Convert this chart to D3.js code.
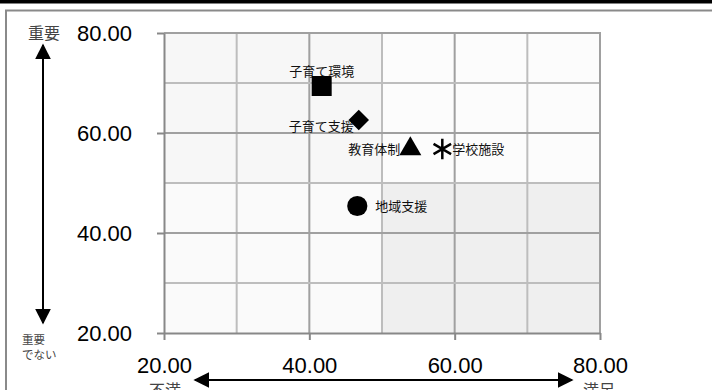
<!DOCTYPE html>
<html>
<head>
<meta charset="utf-8">
<script src="https://cdn.jsdelivr.net/npm/d3@7"></script>
<style>
  html, body { margin: 0; padding: 0; background: #fff; }
  svg { display: block; }
</style>
</head>
<body>
<svg id="chart" width="712" height="390"></svg>
<script>
// 満足度 (x) と 重要度 (y) の散布図
const items = ["子育て環境", "子育て支援", "教育体制", "学校施設", "地域支援"];
const satisfaction = [41.7, 46.8, 53.9, 58.3, 46.6];
const importance = [69.4, 62.6, 56.8, 56.8, 45.4];
const xTickValues = [20, 40, 60, 80];
const yTickValues = [20, 40, 60, 80];
const gridValues = [30, 40, 50, 60, 70];

const W = 712, H = 390;
const svg = d3.select("#chart");
const font = "'Noto Sans CJK JP', 'Noto Sans', sans-serif";
const numFont = "'Liberation Sans', Arial, sans-serif";

// outer frame
svg.append("rect").attr("x", 0).attr("y", 0).attr("width", W).attr("height", 3.5).attr("fill", "#000");
svg.append("path").attr("d", `M6,${H} V10.5 H${W}`).attr("fill", "none")
  .attr("stroke", "#8a8a8a").attr("stroke-width", 2);

const x = d3.scaleLinear().domain([20, 80]).range([164, 600]);
const y = d3.scaleLinear().domain([20, 80]).range([333, 33]);

// quadrant backgrounds
const quads = [
  { x0: 20, x1: 50, y0: 50, y1: 80, fill: "#f7f7f7" },
  { x0: 50, x1: 80, y0: 50, y1: 80, fill: "#fcfcfc" },
  { x0: 20, x1: 50, y0: 20, y1: 50, fill: "#fafafa" },
  { x0: 50, x1: 80, y0: 20, y1: 50, fill: "#efefef" }
];
svg.append("g").selectAll("rect").data(quads).join("rect")
  .attr("x", d => x(d.x0)).attr("y", d => y(d.y1))
  .attr("width", d => x(d.x1) - x(d.x0)).attr("height", d => y(d.y0) - y(d.y1))
  .attr("fill", d => d.fill);

// grid
const grid = svg.append("g");
grid.selectAll("line.gx").data(gridValues).join("line").attr("class", "gx")
  .attr("x1", d => x(d)).attr("x2", d => x(d)).attr("y1", y(80)).attr("y2", y(20))
  .attr("stroke", d => d % 20 === 0 ? "#a0a0a0" : "#bdbdbd").attr("stroke-width", 2);
grid.selectAll("line.gy").data(gridValues).join("line").attr("class", "gy")
  .attr("y1", d => y(d)).attr("y2", d => y(d)).attr("x1", x(20)).attr("x2", x(80))
  .attr("stroke", d => d % 20 === 0 ? "#a0a0a0" : "#bdbdbd").attr("stroke-width", 2);
// top and right border of the plot
svg.append("path").attr("d", `M${x(20)},${y(80)} H${x(80)} V${y(20)}`)
  .attr("fill", "none").attr("stroke", "#a0a0a0").attr("stroke-width", 2);

// axes
const fmt = d3.format(".2f");
const xAxis = svg.append("g").attr("transform", `translate(0,${y(20)})`)
  .call(d3.axisBottom(x).tickValues(xTickValues).tickFormat(fmt).tickSize(7).tickSizeOuter(0).tickPadding(17));
const yAxis = svg.append("g").attr("transform", `translate(${x(20)},0)`)
  .call(d3.axisLeft(y).tickValues(yTickValues).tickFormat(fmt).tickSize(7).tickSizeOuter(0).tickPadding(25));
[xAxis, yAxis].forEach(g => {
  g.select(".domain").attr("stroke", "#888").attr("stroke-width", 2);
  g.selectAll(".tick line").attr("stroke", "#888").attr("stroke-width", 2);
  g.selectAll(".tick text").attr("font-family", numFont).attr("font-size", 22).attr("fill", "#000");
});
yAxis.selectAll(".tick text").attr("dy", "0.36em");

// arrows
const defs = svg.append("defs");
defs.append("marker").attr("id", "ah").attr("viewBox", "0 0 10 10")
  .attr("refX", 9).attr("refY", 5).attr("markerWidth", 8).attr("markerHeight", 8)
  .attr("markerUnits", "strokeWidth").attr("orient", "auto-start-reverse")
  .append("path").attr("d", "M0,0 L10,5 L0,10 Z").attr("fill", "#000");
svg.append("line").attr("x1", 43).attr("x2", 43).attr("y1", 45).attr("y2", 323)
  .attr("stroke", "#000").attr("stroke-width", 2)
  .attr("marker-start", "url(#ah)").attr("marker-end", "url(#ah)");
svg.append("line").attr("x1", 195).attr("x2", 572).attr("y1", 380).attr("y2", 380)
  .attr("stroke", "#000").attr("stroke-width", 2)
  .attr("marker-start", "url(#ah)").attr("marker-end", "url(#ah)");

// axis captions
const cap = svg.append("g").attr("font-family", font).attr("fill", "#444");
cap.append("text").attr("x", 28).attr("y", 39).attr("font-size", 16).text("重要");
cap.append("text").attr("x", 22).attr("y", 344).attr("font-size", 11.5).text("重要");
cap.append("text").attr("x", 22).attr("y", 359).attr("font-size", 11.5).text("でない");
cap.append("text").attr("x", 149).attr("y", 396).attr("font-size", 16).text("不満");
cap.append("text").attr("x", 583).attr("y", 396).attr("font-size", 16).text("満足");

// point labels
const labelPlacement = [
  { anchor: "middle", dx: 0, dy: -10 },
  { anchor: "end", dx: -5, dy: 11 },
  { anchor: "end", dx: -10, dy: 5 },
  { anchor: "start", dx: 10, dy: 5 },
  { anchor: "start", dx: 18, dy: 5 }
];
const points = items.map((name, i) => ({ name, sx: satisfaction[i], iy: importance[i], i }));
svg.append("g").attr("font-family", font).attr("font-size", 13).attr("fill", "#111")
  .selectAll("text").data(points).join("text")
  .attr("x", d => x(d.sx) + labelPlacement[d.i].dx)
  .attr("y", d => y(d.iy) + labelPlacement[d.i].dy)
  .attr("text-anchor", d => labelPlacement[d.i].anchor)
  .text(d => d.name);

// markers
const symbolTypes = [d3.symbolSquare, d3.symbolSquare, d3.symbolTriangle, d3.symbolAsterisk, d3.symbolCircle];
const symbolSizes = [400, 210, 210, 290, 320];
svg.append("g").selectAll("path").data(points).join("path")
  .attr("transform", d => `translate(${x(d.sx)},${y(d.iy)})` + (d.i === 1 ? " rotate(45)" : ""))
  .attr("d", d => d3.symbol(symbolTypes[d.i], symbolSizes[d.i])())
  .attr("fill", d => d.i === 3 ? "none" : "#000")
  .attr("stroke", d => d.i === 3 ? "#000" : "none")
  .attr("stroke-width", 2.5);
</script>
</body>
</html>
